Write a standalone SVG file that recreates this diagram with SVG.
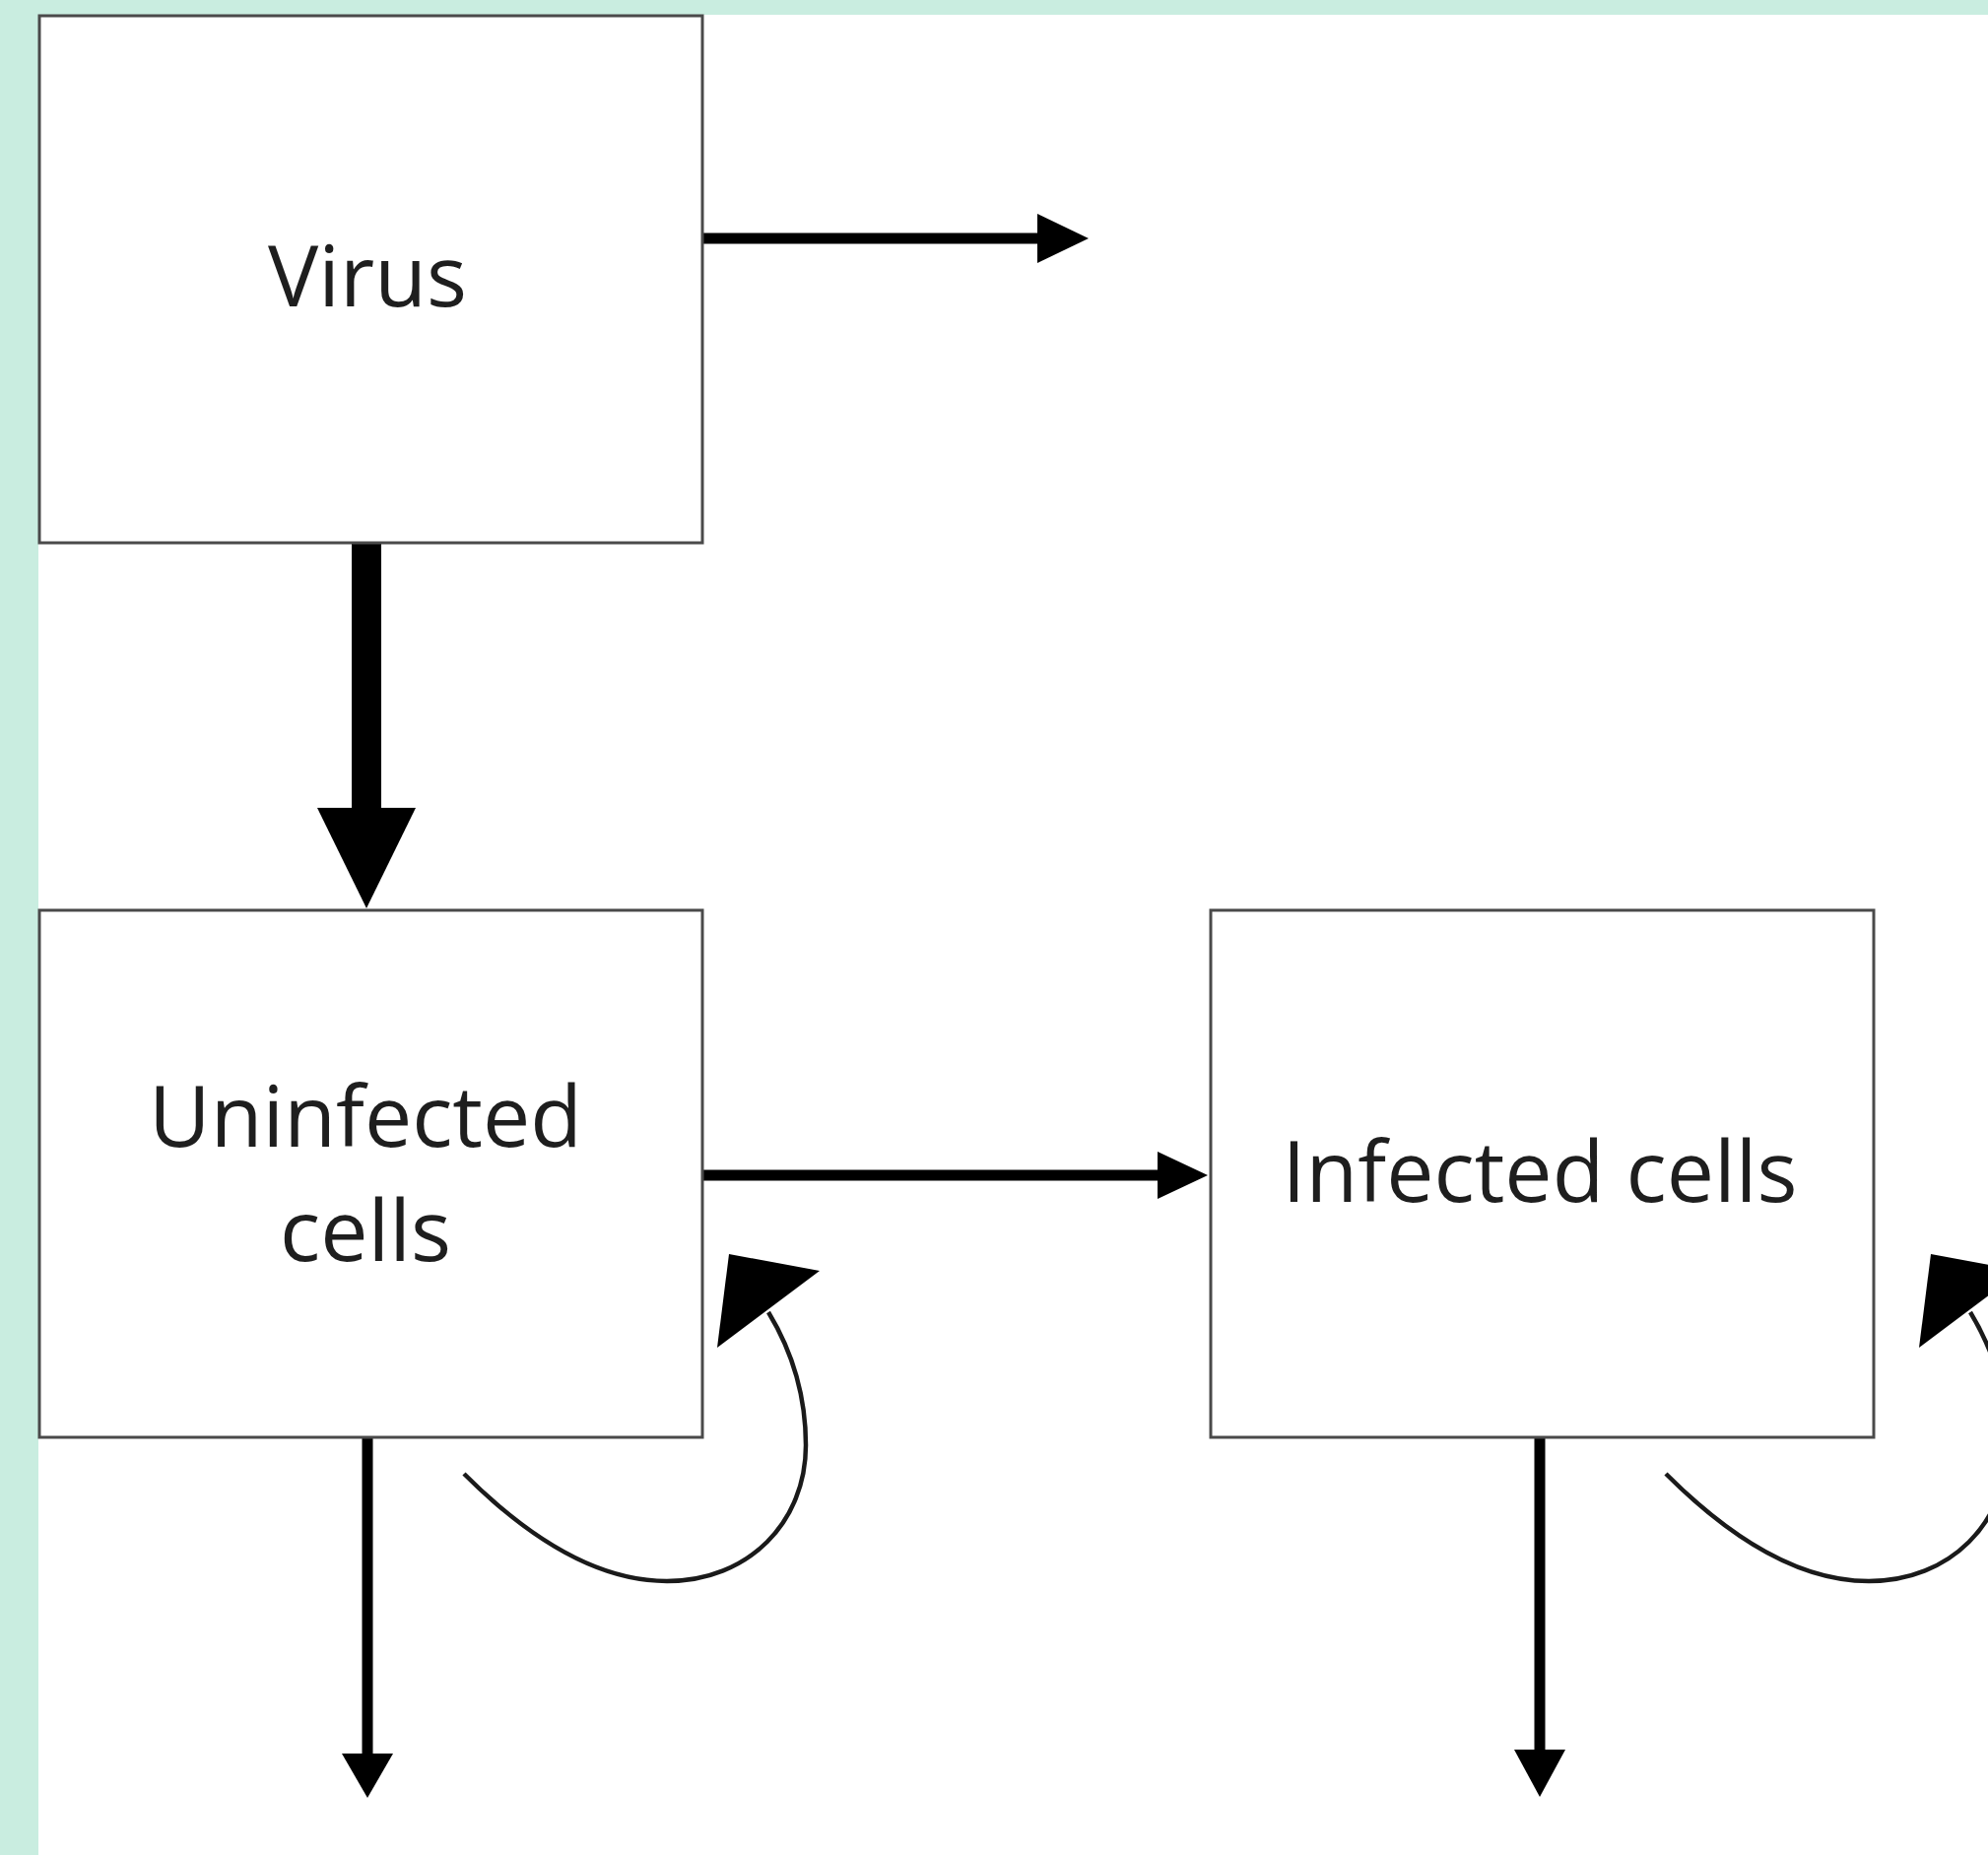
<svg xmlns="http://www.w3.org/2000/svg" width="2018" height="1883" viewBox="0 0 2018 1883">
  <style>
    .box { fill: #ffffff; stroke: #4a4a4a; stroke-width: 3; }
    .label { font-family: "Open Sans", "Noto Sans", "Liberation Sans", sans-serif; font-size: 86px; font-weight: 500; fill: #1e1e1e; text-anchor: middle; }
    .shaft { stroke: #000000; fill: none; }
    .loop { stroke: #1a1a1a; stroke-width: 4.5; fill: none; }
    .head { fill: #000000; }
  </style>
  <rect x="0" y="0" width="2018" height="1883" fill="#c9ede0"/>
  <rect x="39" y="15" width="1979" height="1868" fill="#ffffff"/>

  <g id="connectors">
    <!-- Virus to outside (right) -->
    <line class="shaft" x1="713" y1="242" x2="1058" y2="242" stroke-width="11"/>
    <polygon class="head" points="1053,217 1105,242 1053,267"/>
    <!-- Virus to Uninfected (thick) -->
    <line class="shaft" x1="372" y1="551" x2="372" y2="825" stroke-width="30"/>
    <polygon class="head" points="322,820 422,820 372,922"/>
    <!-- Uninfected to Infected -->
    <line class="shaft" x1="713" y1="1193" x2="1180" y2="1193" stroke-width="11"/>
    <polygon class="head" points="1175,1169 1226,1193 1175,1217"/>
    <!-- Uninfected down -->
    <line class="shaft" x1="373" y1="1459" x2="373" y2="1785" stroke-width="11"/>
    <polygon class="head" points="347,1780 399,1780 373,1825"/>
    <!-- Infected down -->
    <line class="shaft" x1="1563" y1="1459" x2="1563" y2="1781" stroke-width="11"/>
    <polygon class="head" points="1537,1776 1589,1776 1563,1824"/>
    <!-- Uninfected self loop -->
    <path class="loop" d="M471,1496 C540,1565 610,1605 677,1605 C760,1605 818,1545 818,1467 C818,1410 800,1365 780,1332"/>
    <polygon class="head" points="740,1273 832,1290 728,1368"/>
    <!-- Infected self loop -->
    <path class="loop" d="M1691,1496 C1760,1565 1830,1605 1897,1605 C1980,1605 2038,1545 2038,1467 C2038,1410 2020,1365 2000,1332"/>
    <polygon class="head" points="1960,1273 2052,1290 1948,1368"/>
  </g>

  <g id="node-virus">
    <rect class="box" x="40" y="16" width="673" height="535"/>
    <text class="label" x="373" y="311">Virus</text>
  </g>
  <g id="node-uninfected">
    <rect class="box" x="40" y="924" width="673" height="535"/>
    <text class="label" x="371" y="1164">Uninfected</text>
    <text class="label" x="371" y="1280">cells</text>
  </g>
  <g id="node-infected">
    <rect class="box" x="1229" y="924" width="673" height="535"/>
    <text class="label" x="1563" y="1220">Infected cells</text>
  </g>
</svg>
